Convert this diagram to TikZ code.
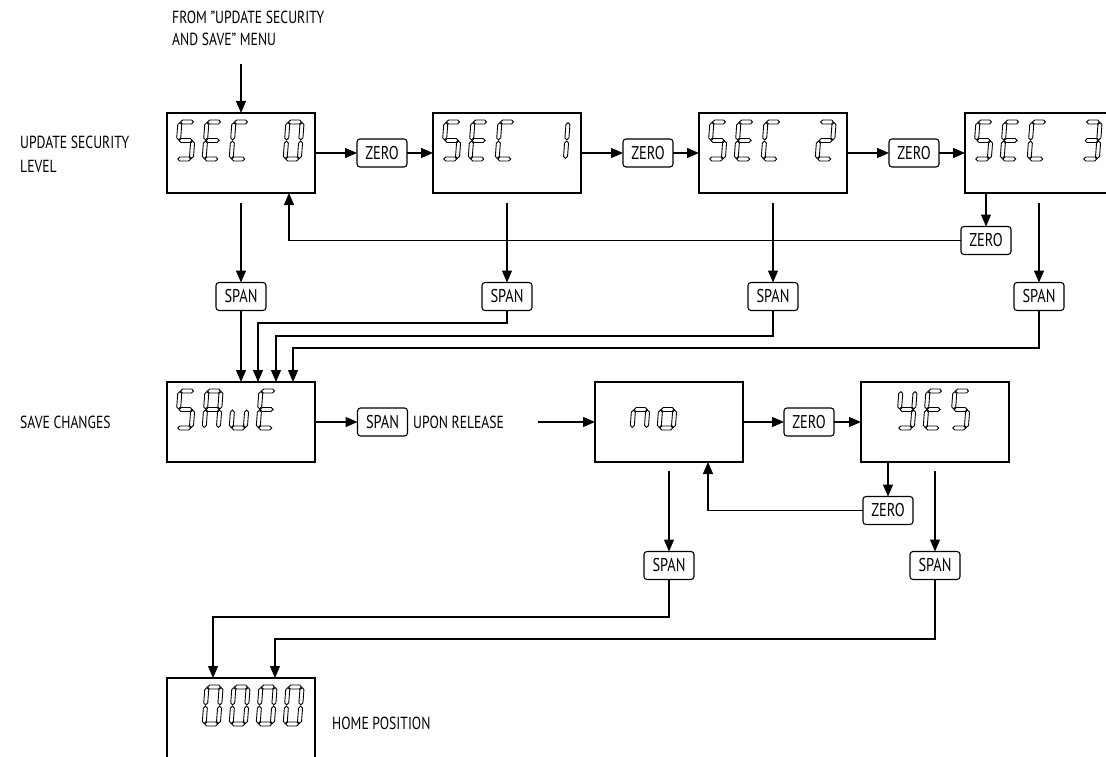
\documentclass[tikz,border=0pt]{standalone}
\usepackage{fontspec}
\setmainfont[FakeStretch=0.78]{PT Sans}
\usetikzlibrary{arrows.meta,calc}
% seven-segment geometry (local units, y up)
\newcommand\sg{0.6}
\newcommand\st{2.0}
\newcommand\hseg[3]{\draw[segst] (#1+\sg,#3) -- (#1+\sg+\st,#3+\st) -- (#2-\sg-\st,#3+\st) -- (#2-\sg,#3) -- (#2-\sg-\st,#3-\st) -- (#1+\sg+\st,#3-\st) -- cycle;}
\newcommand\vseg[3]{\draw[segst] (#1,#2+\sg) -- (#1+\st,#2+\sg+\st) -- (#1+\st,#3-\sg-\st) -- (#1,#3-\sg) -- (#1-\st,#3-\sg-\st) -- (#1-\st,#2+\sg+\st) -- cycle;}
\newcommand\lcdsega{\hseg{2}{16.2}{39}}
\newcommand\lcdsegb{\vseg{16.2}{20.5}{39}}
\newcommand\lcdsegc{\vseg{16.2}{2}{20.5}}
\newcommand\lcdsegd{\hseg{2}{16.2}{2}}
\newcommand\lcdsege{\vseg{2}{2}{20.5}}
\newcommand\lcdsegf{\vseg{2}{20.5}{39}}
\newcommand\lcdsegg{\hseg{2}{16.2}{20.5}}
\newcommand\lcdchar[1]{\foreach \s in {#1} {\csname lcdseg\s\endcsname}}
\newcommand\lcd[3]{\begin{scope}[shift={($(#1.north west)+({8+27*(#2-1)},48)$)}, y=1pt, xslant=0.075]\lcdchar{#3}\end{scope}}
\begin{document}
\begin{tikzpicture}[x=1pt,y=-1pt,
  disp/.style={draw, line width=1.3pt, minimum width=148pt, minimum height=80pt, inner sep=0pt, outer sep=0pt, anchor=north west},
  btn/.style={draw, line width=1.1pt, rounded corners=3pt, minimum width=50pt, minimum height=28pt, inner sep=0pt, outer sep=0pt, font=\fontsize{18.5}{20}\selectfont},
  lab/.style={anchor=base west, inner sep=0pt, font=\fontsize{17.5}{20}\selectfont},
  conn/.style={line width=1.2pt},
  arr/.style={conn, -{Triangle[length=12pt,width=10pt]}},
  segst/.style={line width=0.9pt, line join=miter}]
\useasboundingbox (0,0) rectangle (1106,757);
\clip (0,0) rectangle (1106,757);
\fill[white] (0,0) rectangle (1106,757);
% displays
\node[disp] (sec0) at (167,113) {};
\node[disp] (sec1) at (433,113) {};
\node[disp] (sec2) at (699,113) {};
\node[disp] (sec3) at (965,113) {};
\node[disp] (save) at (167,382) {};
\node[disp] (no)   at (595,382) {};
\node[disp] (yes)  at (861,382) {};
\node[disp] (home) at (167,678) {};
% digits
\lcd{sec0}{1}{a,c,d,f,g}\lcd{sec0}{2}{a,d,e,f,g}\lcd{sec0}{3}{a,d,e,f}\lcd{sec0}{5}{a,b,c,d,e,f}
\lcd{sec1}{1}{a,c,d,f,g}\lcd{sec1}{2}{a,d,e,f,g}\lcd{sec1}{3}{a,d,e,f}\lcd{sec1}{5}{b,c}
\lcd{sec2}{1}{a,c,d,f,g}\lcd{sec2}{2}{a,d,e,f,g}\lcd{sec2}{3}{a,d,e,f}\lcd{sec2}{5}{a,b,d,e,g}
\lcd{sec3}{1}{a,c,d,f,g}\lcd{sec3}{2}{a,d,e,f,g}\lcd{sec3}{3}{a,d,e,f}\lcd{sec3}{5}{a,b,c,d,g}
\lcd{save}{1}{a,c,d,f,g}\lcd{save}{2}{a,b,c,e,f,g}\lcd{save}{3}{c,d,e}\lcd{save}{4}{a,d,e,f,g}
\lcd{no}{2}{c,e,g}\lcd{no}{3}{c,d,e,g}
\lcd{yes}{2}{b,c,d,f,g}\lcd{yes}{3}{a,d,e,f,g}\lcd{yes}{4}{a,c,d,f,g}
\lcd{home}{2}{a,b,c,d,e,f}\lcd{home}{3}{a,b,c,d,e,f}\lcd{home}{4}{a,b,c,d,e,f}\lcd{home}{5}{a,b,c,d,e,f}
% buttons
\node[btn] (z01) at (382,153) {ZERO};
\node[btn] (z12) at (648,153) {ZERO};
\node[btn] (z23) at (914,153) {ZERO};
\node[btn] (z3b) at (986,240.5) {ZERO};
\node[btn] (s0) at (241,296.5) {SPAN};
\node[btn] (s1) at (507,296.5) {SPAN};
\node[btn] (s2) at (773,296.5) {SPAN};
\node[btn] (s3) at (1039,296.5) {SPAN};
\node[btn] (ssave) at (382.5,422) {SPAN};
\node[btn] (zny) at (809,422) {ZERO};
\node[btn] (zyb) at (888,510.5) {ZERO};
\node[btn] (sno) at (669,565.5) {SPAN};
\node[btn] (syes) at (935,565.5) {SPAN};
% labels
\node[lab] (from1) at (172,24) {FROM "UPDATE SECURITY};
\node[lab] (from2) at (172,46) {AND SAVE" MENU};
\node[lab] (usl1) at (20,149) {UPDATE SECURITY};
\node[lab] (usl2) at (20,172) {LEVEL};
\node[lab] (savec) at (20,428) {SAVE CHANGES};
\node[lab] (upon) at (413,428) {UPON RELEASE};
\node[lab] (homep) at (332,729) {HOME POSITION};
% connectors
\coordinate (top) at (241,64);
\draw[arr] (top) -- (top |- sec0.north);
\draw[arr] (sec0.east) -- (z01.west);
\draw[arr] (z01.east) -- (sec1.west);
\draw[arr] (sec1.east) -- (z12.west);
\draw[arr] (z12.east) -- (sec2.west);
\draw[arr] (sec2.east) -- (z23.west);
\draw[arr] (z23.east) -- (sec3.west);
\draw[arr] (z3b.north |- sec3.south) -- (z3b.north);
\coordinate (back0) at (289,0);
\draw[arr] (z3b.west) -| (back0 |- sec0.south);
\draw[arr] ($(sec0.south)+(0,10)$) -- (s0.north);
\draw[arr] ($(sec1.south)+(0,10)$) -- (s1.north);
\draw[arr] ($(sec2.south)+(0,10)$) -- (s2.north);
\draw[arr] ($(sec3.south)+(0,10)$) -- (s3.north);
\coordinate (m1) at (258,323);
\coordinate (m2) at (276,336);
\coordinate (m3) at (293,348);
\draw[arr] (s0.south) -- (s0.south |- save.north);
\draw[arr] (s1.south) |- (m1) -- (m1 |- save.north);
\draw[arr] (s2.south) |- (m2) -- (m2 |- save.north);
\draw[arr] (s3.south) |- (m3) -- (m3 |- save.north);
\draw[arr] (save.east) -- (ssave.west);
\coordinate (rel) at (538,422);
\draw[arr] (rel) -- (no.west);
\draw[arr] (no.east) -- (zny.west);
\draw[arr] (zny.east) -- (yes.west);
\draw[arr] (zyb.north |- yes.south) -- (zyb.north);
\coordinate (backno) at (708,0);
\draw[arr] (zyb.west) -| (backno |- no.south);
\draw[arr] ($(no.south)+(0,9)$) -- (sno.north);
\draw[arr] ($(yes.south)+(0,9)$) -- (syes.north);
\coordinate (h1) at (213,617);
\coordinate (h2) at (275,639);
\draw[arr] (sno.south) |- (h1) -- (h1 |- home.north);
\draw[arr] (syes.south) |- (h2) -- (h2 |- home.north);
\end{tikzpicture}
\end{document}
